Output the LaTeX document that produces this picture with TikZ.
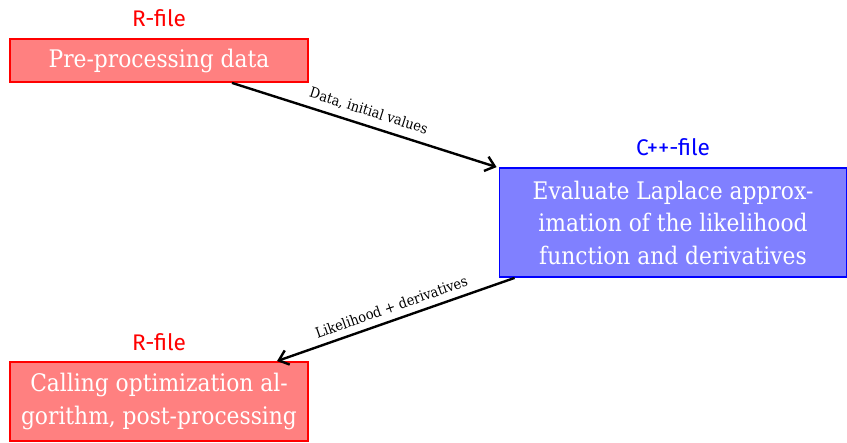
\documentclass[tikz,border=0pt]{standalone}
\usepackage{fontspec}
\setmainfont{DejaVu Serif}[FakeStretch=0.9]
\newfontfamily\labelsans{Fira Sans}
\usetikzlibrary{arrows.meta}
\begin{document}
\begin{tikzpicture}[x=0.5pt,y=-0.5pt,
  rbox/.style={draw=red,line width=0.9pt,fill=red!50,text=white,align=center,
    minimum width=149pt,inner sep=0pt,font=\fontsize{12.1}{16.25}\selectfont},
  bbox/.style={draw=blue,line width=0.9pt,fill=blue!50,text=white,align=center,
    minimum width=173.5pt,inner sep=0pt,font=\fontsize{12.1}{16.25}\selectfont},
  filelab/.style={font=\labelsans\fontsize{11.3}{13}\selectfont},
  edgelab/.style={font=\fontsize{7.2}{9}\selectfont,sloped,above,text=black},
  conn/.style={draw=black,line width=1.2pt,-{Straight Barb[length=4.5pt,width=7.5pt]}}]
\useasboundingbox (0,0) rectangle (847,443);
\node[rbox,minimum height=21.5pt] (pre) at (159,60.5) {Pre-processing data};
\node[filelab,text=red] (prelab) at (159,18) {R-file};
\node[bbox,minimum height=54.5pt] (cpp) at (673,222.5) {Evaluate Laplace approx-\\imation of the likelihood\\function and derivatives};
\node[filelab,text=blue] (cpplab) at (673,147) {C++-file};
\node[rbox,minimum height=39.5pt] (post) at (159,401.5) {Calling optimization al-\\gorithm, post-processing};
\node[filelab,text=red] (postlab) at (159,342) {R-file};
\draw[conn] ([xshift=36.5pt]pre.south) -- node[edgelab,pos=0.5] {Data, initial values} ([xshift=-1pt]cpp.north west);
\draw[conn] ([xshift=8pt]cpp.south west) -- node[edgelab,pos=0.5] {Likelihood + derivatives} ([xshift=59pt]post.north);
\end{tikzpicture}
\end{document}
